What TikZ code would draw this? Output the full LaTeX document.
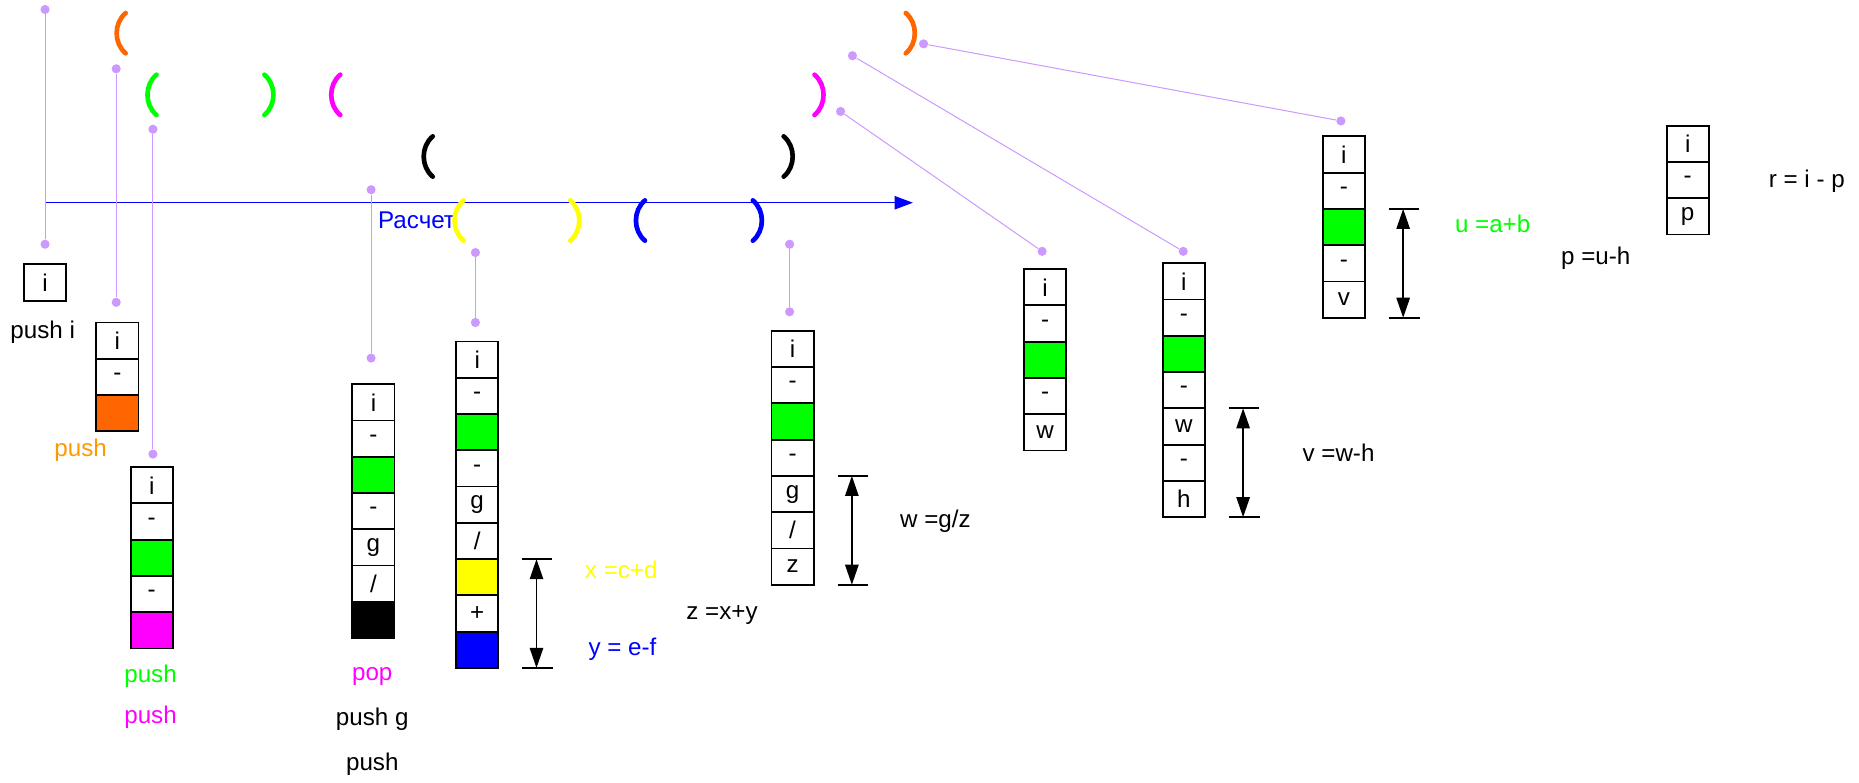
\documentclass[tikz,border=0pt]{standalone}
\usepackage{fontspec}
\setmainfont{Liberation Sans}
\usetikzlibrary{arrows.meta,positioning}
\definecolor{lilac}{RGB}{204,153,255}
\definecolor{orng}{RGB}{255,102,0}
\definecolor{lorng}{RGB}{255,153,0}
\definecolor{grn}{RGB}{0,255,0}
\definecolor{mgnt}{RGB}{255,0,255}
\definecolor{ylw}{RGB}{255,255,0}
\definecolor{blu}{RGB}{0,0,255}

\begin{document}
\begin{tikzpicture}[x=0.025cm, y=-0.025cm, font=\fontsize{14.5}{17}\selectfont,
  cell/.style={draw, line width=1.1pt, minimum width=0.89cm, minimum height=0.765cm,
    inner sep=0pt, outer sep=0pt, anchor=north},
  dot/.style={circle, fill=lilac, inner sep=0pt, minimum size=5.5pt},
  link/.style={lilac, line width=0.6pt},
  brk/.style={line width=2.8pt, line cap=round},
  dim/.style={line width=1pt, {Triangle[length=12pt,width=8pt]}-{Triangle[length=12pt,width=8pt]}}]
\useasboundingbox (0,0) rectangle (1568,660);

% time axis
\coordinate (a0) at (38,171);
\coordinate (a1) at (770,171);
\draw[blu, line width=0.9pt, -{Triangle[length=11pt,width=8pt]}] (a0) -- (a1);
\node[text=blu, anchor=west] (calc) at (314,186) {Расчет};

% opening and closing brackets
\foreach \x/\y/\c in {103/28/orng, 129/80/grn, 284/80/mgnt, 362/132/black, 388/186/ylw, 541/186/blu}
  \draw[brk, \c] (\x+3,\y-17) to[bend right=50] (\x+3,\y+17);
\foreach \x/\y/\c in {767/28/orng, 226/80/grn, 690/80/mgnt, 664/132/black, 484/186/ylw, 638/186/blu}
  \draw[brk, \c] (\x-3,\y-17) to[bend left=50] (\x-3,\y+17);

% pointers from the brackets to the stacks
\foreach \k/\xa/\ya/\xb/\yb in {1/38/8/38/206, 2/98/58/98/255, 3/129/109/129/383,
    4/313/160/313/302, 5/401/213/401/272, 6/666/206/666/263,
    7/709/94/879/212, 8/719/47/998/212, 9/779/37/1131/102} {
  \node[dot] (p\k) at (\xa,\ya) {};
  \node[dot] (q\k) at (\xb,\yb) {};
  \draw[link] (p\k) -- (q\k);
}

% stacks
\node[cell] (s0) at (38,223) {i};
\foreach \t/\c [count=\k] in {i/white,-/white,/orng}
  \node[cell, fill=\c] (sA-\k) at (99,{272+30.6*(\k-1)}) {\t};
\foreach \t/\c [count=\k] in {i/white,-/white,/grn,-/white,/mgnt}
  \node[cell, fill=\c] (sB-\k) at (128,{394+30.6*(\k-1)}) {\t};
\foreach \t/\c [count=\k] in {i/white,-/white,/grn,-/white,g/white,{/}/white,/black}
  \node[cell, fill=\c] (sC-\k) at (315,{324+30.6*(\k-1)}) {\t};
\foreach \t/\c [count=\k] in {i/white,-/white,/grn,-/white,g/white,{/}/white,/ylw,+/white,/blu}
  \node[cell, fill=\c] (sD-\k) at (402.5,{288+30.6*(\k-1)}) {\t};
\foreach \t/\c [count=\k] in {i/white,-/white,/grn,-/white,g/white,{/}/white,z/white}
  \node[cell, fill=\c] (sE-\k) at (668.5,{279+30.6*(\k-1)}) {\t};
\foreach \t/\c [count=\k] in {i/white,-/white,/grn,-/white,w/white}
  \node[cell, fill=\c] (sF-\k) at (881.5,{227+30.6*(\k-1)}) {\t};
\foreach \t/\c [count=\k] in {i/white,-/white,/grn,-/white,w/white,-/white,h/white}
  \node[cell, fill=\c] (sG-\k) at (998.5,{222+30.6*(\k-1)}) {\t};
\foreach \t/\c [count=\k] in {i/white,-/white,/grn,-/white,v/white}
  \node[cell, fill=\c] (sH-\k) at (1133.5,{115+30.6*(\k-1)}) {\t};
\foreach \t/\c [count=\k] in {i/white,-/white,p/white}
  \node[cell, fill=\c] (sK-\k) at (1423.5,{106+30.6*(\k-1)}) {\t};

% spans of the partial results
\foreach \s/\a/\b in {D/7/9, E/5/7, G/5/7, H/3/5} {
  \draw[line width=1pt] ([xshift=0.95cm]s\s-\a.north) -- ([xshift=1.58cm]s\s-\a.north)
    ([xshift=0.95cm]s\s-\b.south) -- ([xshift=1.6cm]s\s-\b.south);
  \draw[dim] ([xshift=1.25cm]s\s-\a.north) -- ([xshift=1.25cm]s\s-\b.south);
}

% operations
\node (opi) at (36,280) {push i};
\node[text=lorng] (opA) at (68,380) {push};
\node[text=grn] (opB1) at (127,570) {push};
\node[text=mgnt] (opB2) at (127,605) {push};
\node[text=mgnt] (opC1) at (314,571) {pop};
\node (opC2) at (314,607) {push g};
\node (opC3) at (314,645) {push};

% formulas
\node[text=ylw] (fx) at (524,481) {x =c+d};
\node[text=blu] (fy) at (525,548) {y = e-f};
\node (fz) at (609,519) {z =x+y};
\node (fw) at (789,440) {w =g/z};
\node (fv) at (1129,382) {v =w-h};
\node[text=grn] (fu) at (1259,189) {u =a+b};
\node (fp) at (1346,218) {p =u-h};
\node (fr) at (1524,153) {r = i - p};
\end{tikzpicture}
\end{document}
